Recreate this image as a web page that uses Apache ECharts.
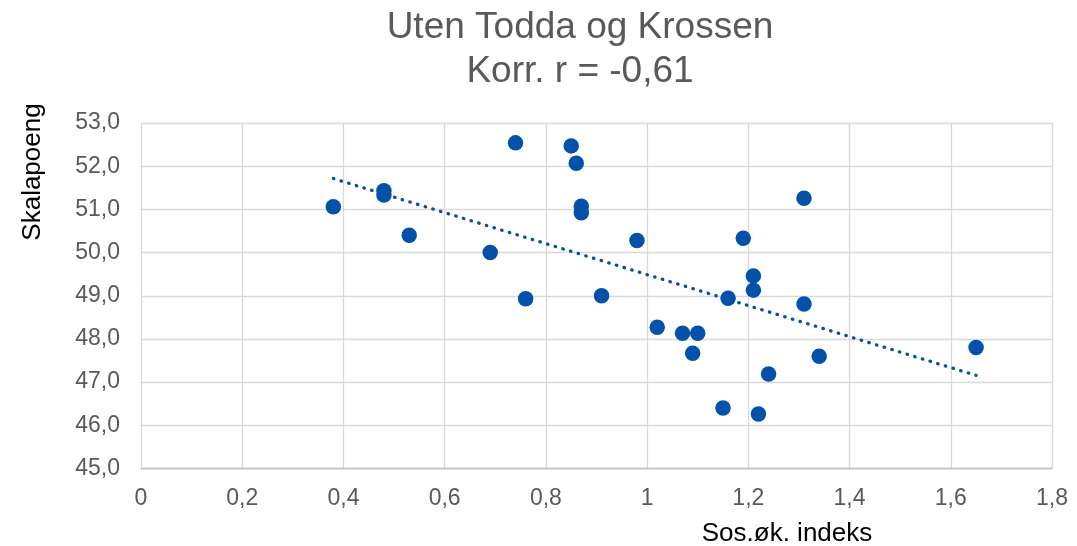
<!DOCTYPE html>
<html>
<head>
<meta charset="utf-8">
<title>Uten Todda og Krossen</title>
<script src="https://cdn.jsdelivr.net/npm/echarts@6/dist/echarts.min.js"></script>
<style>
    html, body { margin: 0; padding: 0; background: #fff; }
    #chart { width: 1077px; height: 546px; }
</style>
</head>
<body>
<div id="chart"></div>
<script>
// data
const xValues = [0.38, 0.48, 0.48, 0.53, 0.69, 0.74, 0.76, 0.85, 0.86, 0.87, 0.87, 0.91, 0.98, 1.02,
    1.07, 1.09, 1.10, 1.15, 1.16, 1.19, 1.21, 1.21, 1.22, 1.24, 1.31, 1.31, 1.34, 1.65];
const yValues = [51.06, 51.43, 51.33, 50.40, 50.00, 52.54, 48.93, 52.47, 52.07, 51.07, 50.92, 49.00, 50.28, 48.27,
    48.13, 47.67, 48.13, 46.40, 48.94, 50.33, 49.46, 49.13, 46.26, 47.19, 51.26, 48.81, 47.60, 47.80];
const xTicks = [0, 0.2, 0.4, 0.6, 0.8, 1, 1.2, 1.4, 1.6, 1.8];
const yTicks = [45, 46, 47, 48, 49, 50, 51, 52, 53];

const font = 'Liberation Sans, Arial, sans-serif';
const blue = '#0351a8';

const points = xValues.map((x, i) => [x, yValues[i]]);

// linear trendline (least squares), like the spreadsheet one
const n = xValues.length;
const mx = xValues.reduce((a, b) => a + b, 0) / n;
const my = yValues.reduce((a, b) => a + b, 0) / n;
let sxy = 0, sxx = 0;
xValues.forEach((x, i) => {
    sxy += (x - mx) * (yValues[i] - my);
    sxx += (x - mx) * (x - mx);
});
const slope = sxy / sxx;
const icpt = my - slope * mx;
const xMin = Math.min(...xValues);
const xMax = Math.max(...xValues);
const trend = [[xMin, icpt + slope * xMin], [xMax, icpt + slope * xMax]];

const comma = v => String(v).replace('.', ',');

const chart = echarts.init(document.getElementById('chart'));

chart.setOption({
    animation: false,
    textStyle: { fontFamily: font },
    title: {
        text: 'Uten Todda og Krossen\nKorr. r = -0,61',
        left: 580,
        top: 6,
        padding: 0,
        textAlign: 'center',
        textStyle: {
            color: '#595959',
            fontSize: 37,
            fontWeight: 'normal',
            lineHeight: 44,
            fontFamily: font
        }
    },
    grid: { left: 141, right: 25, top: 123, bottom: 77.5 },
    xAxis: {
        type: 'value',
        min: xTicks[0],
        max: xTicks[xTicks.length - 1],
        interval: 0.2,
        axisLine: { show: true, lineStyle: { color: '#bfbfbf', width: 1.3 } },
        axisTick: { show: false },
        splitLine: { show: true, lineStyle: { color: '#d9d9d9', width: 1.3 } },
        axisLabel: {
            color: '#595959',
            fontSize: 23,
            margin: 19,
            fontFamily: font,
            formatter: v => comma(+v.toFixed(1))
        }
    },
    yAxis: {
        type: 'value',
        min: yTicks[0],
        max: yTicks[yTicks.length - 1],
        interval: 1,
        axisLine: { show: false },
        axisTick: { show: false },
        splitLine: { show: true, lineStyle: { color: '#d9d9d9', width: 1.3 } },
        axisLabel: {
            color: '#595959',
            fontSize: 23,
            margin: 21,
            fontFamily: font,
            formatter: v => comma(v.toFixed(1))
        }
    },
    graphic: [
        {
            type: 'text',
            x: 33,
            y: 172,
            rotation: Math.PI / 2,
            style: {
                text: 'Skalapoeng',
                fill: '#000',
                fontSize: 26,
                fontFamily: font,
                align: 'center',
                verticalAlign: 'middle'
            }
        },
        {
            type: 'text',
            x: 787,
            y: 534,
            style: {
                text: 'Sos.øk. indeks',
                fill: '#000',
                fontSize: 26,
                fontFamily: font,
                align: 'center',
                verticalAlign: 'middle'
            }
        }
    ],
    series: [
        {
            type: 'scatter',
            data: points,
            symbolSize: 15.5,
            itemStyle: { color: blue, opacity: 1 }
        },
        {
            type: 'line',
            data: trend,
            symbol: 'none',
            z: 3,
            lineStyle: { color: blue, width: 3.3, type: [0.5, 7.5], cap: 'round' }
        }
    ]
});
</script>
</body>
</html>
